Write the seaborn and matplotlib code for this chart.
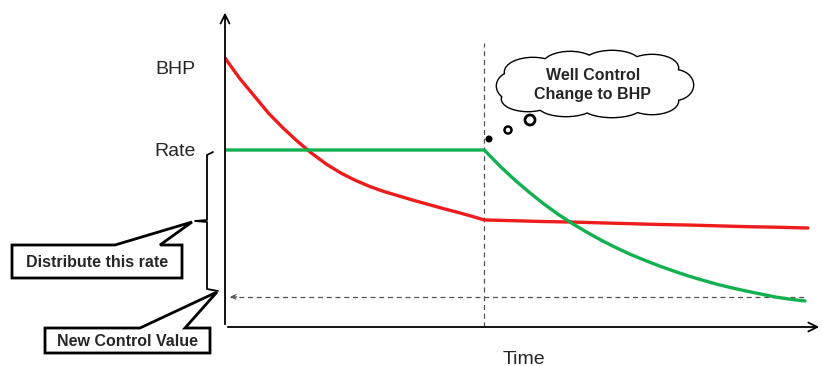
import numpy as np
import seaborn as sns
import matplotlib.pyplot as plt
import matplotlib.transforms as mtransforms
from matplotlib.patches import Polygon, Ellipse, Circle
from matplotlib.lines import Line2D

# schematic values (time units, arbitrary value units)
t_switch = 4.47
t_bhp = [0, 0.25, 0.5, 0.75, 1, 1.25, 1.5, 1.75, 2, 2.25, 2.5, 2.75, 3, 3.25, 3.5, 3.75,
         4, 4.25, 4.47, 5, 5.5, 6, 6.5, 7, 7.5, 8, 8.5, 9, 9.5, 10.05]
bhp = [10.0, 9.25, 8.6, 7.95, 7.4, 6.9, 6.45, 6.05, 5.72, 5.45, 5.22, 5.03, 4.87, 4.71,
       4.56, 4.41, 4.27, 4.12, 3.98, 3.95, 3.92, 3.90, 3.87, 3.84, 3.81, 3.79, 3.76, 3.73,
       3.71, 3.68]
t_rate = [0, 1, 2, 3, 4, 4.47, 4.75, 5, 5.25, 5.5, 5.75, 6, 6.25, 6.5, 6.75, 7, 7.25, 7.5,
          7.75, 8, 8.25, 8.5, 8.75, 9, 9.25, 9.5, 9.75, 10]
rate = [6.58, 6.58, 6.58, 6.58, 6.58, 6.58, 5.96, 5.46, 5.0, 4.57, 4.18, 3.83, 3.51, 3.21,
        2.94, 2.69, 2.47, 2.26, 2.07, 1.89, 1.73, 1.58, 1.45, 1.33, 1.22, 1.11, 1.03, 0.97]
new_control = 1.12
tick_pos = [9.63, 6.58]
tick_labels = ["BHP", "Rate"]

sns.set_theme(style="white")
plt.rcParams['font.family'] = ['Liberation Sans', 'DejaVu Sans']

fig = plt.figure(figsize=(8.22, 3.66), dpi=100)
ax = fig.add_axes([225 / 822, 39 / 366, 597 / 822, 322 / 366])
ax.set_xlim(0, 597 / 58)
ax.set_ylim(0, 322 / 26.9)
for s in ax.spines.values():
    s.set_visible(False)

# pixel transform (top-left origin) for the decorations
px = mtransforms.Affine2D().scale(1 / 100, -1 / 100).translate(0, 3.66) + fig.dpi_scale_trans

# axes with arrows
arrow = dict(arrowstyle='->', lw=1.3, color='black', mutation_scale=16)
ax.annotate("", xy=(0, 0.985), xytext=(0, 0), xycoords='axes fraction', arrowprops=arrow)
ax.annotate("", xy=(1.0, 0), xytext=(0, 0), xycoords='axes fraction', arrowprops=arrow)

# dashed guides
ax.plot([t_switch, t_switch], [0, 10.55], ls=(0, (4, 3)), color='#555555', lw=0.9)
ax.plot([0.08, t_rate[-1]], [new_control, new_control], ls=(0, (4, 3)), color='#555555', lw=0.9)
ax.annotate("", xy=(0.04, new_control), xytext=(0.25, new_control),
            arrowprops=dict(arrowstyle='->', lw=0.9, color='#555555', mutation_scale=8))

sns.lineplot(x=t_bhp, y=bhp, color='#ee1c1c', lw=2.4, ax=ax)
sns.lineplot(x=t_rate, y=rate, color='#12b050', lw=2.4, ax=ax)

ax.set_xticks([])
ax.set_yticks(tick_pos, tick_labels)
ax.tick_params(axis='y', length=0, pad=21, labelsize=14)
ax.set_xlabel("Time", fontsize=14, labelpad=17)

# curly bracket
brace = Line2D([213, 207, 207, 195, 207, 207, 218], [152, 155, 220, 221, 222, 289, 291],
               transform=px, color='black', lw=1.3)
brace.set_clip_on(False)
ax.add_artist(brace)


def callout(box, tail, text):
    x0, y0, x1, y1 = box
    bl, br, tip = tail
    pts = [(x0, y0), (bl, y0), tip, (br, y0), (x1, y0), (x1, y1), (x0, y1)]
    ax.add_patch(Polygon(pts, closed=True, transform=px, facecolor='white',
                         edgecolor='black', lw=2, clip_on=False, zorder=5))
    ax.text((x0 + x1) / 2, (y0 + y1) / 2 + 1, text, transform=px, ha='center', va='center',
            fontsize=11.5, fontweight='bold', zorder=6)


callout((12, 245, 182, 278), (115, 160, (192, 222)), "Distribute this rate")
callout((45, 328, 210, 353), (140, 185, (217, 292)), "New Control Value")

# thought cloud
bumps = [(533, 72, 56, 28), (570, 65, 54, 26), (612, 63, 56, 24), (652, 68, 52, 26),
         (674, 85, 38, 30), (652, 101, 52, 26), (612, 106, 60, 22), (566, 105, 56, 22),
         (528, 99, 52, 24), (514, 86, 34, 28)]
for cx, cy, w, h in bumps:
    ax.add_patch(Ellipse((cx, cy), w, h, transform=px, facecolor='white', edgecolor='black',
                         lw=2, clip_on=False, zorder=5))
for cx, cy, w, h in bumps:
    ax.add_patch(Ellipse((cx, cy), w, h, transform=px, facecolor='white', edgecolor='none',
                         clip_on=False, zorder=6))
ax.add_patch(Ellipse((594, 85), 160, 42, transform=px, facecolor='white', edgecolor='none',
                     clip_on=False, zorder=6))
ax.text(593, 75, "Well Control", transform=px, ha='center', va='center',
        fontsize=11.5, fontweight='bold', zorder=7)
ax.text(593, 94, "Change to BHP", transform=px, ha='center', va='center',
        fontsize=11.5, fontweight='bold', zorder=7)
ax.add_patch(Circle((489, 139), 2.8, transform=px, facecolor='black', edgecolor='black',
                    clip_on=False, zorder=8))
ax.add_patch(Circle((508, 130), 3.5, transform=px, facecolor='white', edgecolor='black',
                    lw=1.8, clip_on=False, zorder=8))
ax.add_patch(Circle((530, 120), 5, transform=px, facecolor='white', edgecolor='black',
                    lw=2, clip_on=False, zorder=8))

fig.savefig("out.png", dpi=100)
